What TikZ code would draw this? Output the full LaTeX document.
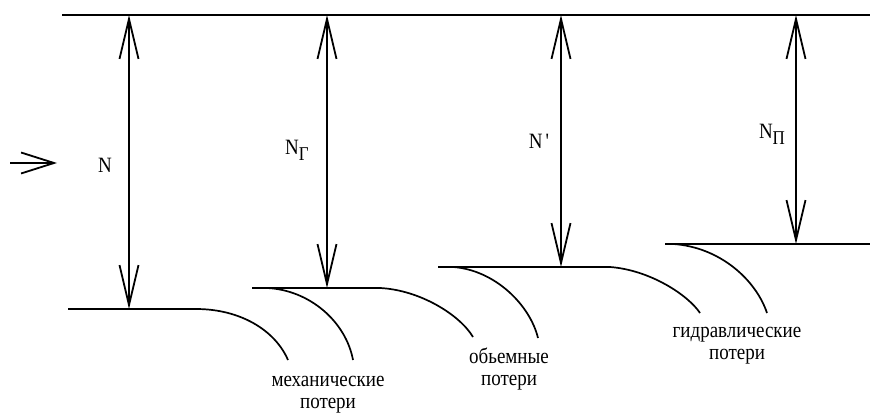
\documentclass[tikz,border=0pt]{standalone}
\usepackage{fontspec}
\setmainfont{Liberation Serif}
\newfontfamily\lblfont{Liberation Serif}
\usetikzlibrary{arrows.meta}
\newcommand{\vstretch}[1]{\scalebox{1}[1.15]{#1}}
\begin{document}
\begin{tikzpicture}[x=1pt,y=-1pt,
  baseln/.style={line width=2.2pt},
  dimarrow/.style={line width=1.8pt,{Straight Barb[length=40pt,width=19pt]}-{Straight Barb[length=40pt,width=19pt]}},
  curveln/.style={line width=1.7pt},
  lbl/.style={font=\lblfont\fontsize{19}{22}\selectfont, inner sep=0pt, align=center}]
\useasboundingbox (0,0) rectangle (870,414);
% top line
\coordinate (T0) at (62,15);
\coordinate (T1) at (870,15);
\draw[baseln] (T0) -- (T1);
% base lines
\coordinate (B1a) at (68,309);  \coordinate (B1b) at (196,309);
\coordinate (B2a) at (252,288); \coordinate (B2b) at (380,288);
\coordinate (B3a) at (438,267); \coordinate (B3b) at (610,267);
\coordinate (B4a) at (665,244); \coordinate (B4b) at (870,244);
\draw[baseln] (B1a) -- (B1b);
\draw[baseln] (B2a) -- (B2b);
\draw[baseln] (B3a) -- (B3b);
\draw[baseln] (B4a) -- (B4b);
% arrow ends
\coordinate (A1t) at (129,15); \coordinate (A1b) at (129,309);
\coordinate (A2t) at (327,15); \coordinate (A2b) at (327,288);
\coordinate (A3t) at (561,15); \coordinate (A3b) at (561,267);
\coordinate (A4t) at (796,15); \coordinate (A4b) at (796,244);
\draw[dimarrow] (A1b) -- (A1t);
\draw[dimarrow] (A2b) -- (A2t);
\draw[dimarrow] (A3b) -- (A3t);
\draw[dimarrow] (A4b) -- (A4t);
% input arrow
\coordinate (In0) at (10,163); \coordinate (In1) at (57,163);
\draw[line width=1.8pt,-{Straight Barb[length=33pt,width=21pt]}] (In0) -- (In1);
% curves
\coordinate (C1) at (288,360);
\coordinate (C2s) at (267,288); \coordinate (C2) at (353,360);
\coordinate (C3) at (473,337);
\coordinate (C4s) at (453,267); \coordinate (C4) at (538,338);
\coordinate (C5) at (700,313);
\coordinate (C6s) at (673,244); \coordinate (C6) at (767,313);
\draw[curveln] (B1b) .. controls (240,309) and (275,330) .. (C1);
\draw[curveln] (C2s) .. controls (310,290) and (346,322) .. (C2);
\draw[curveln] (B2b) .. controls (420,290) and (460,315) .. (C3);
\draw[curveln] (C4s) .. controls (495,270) and (530,305) .. (C4);
\draw[curveln] (B3b) .. controls (650,270) and (688,295) .. (C5);
\draw[curveln] (C6s) .. controls (720,247) and (756,280) .. (C6);
% labels
\node[lbl] (LN) at (105,165) {\vstretch{N}};
\node[lbl] (LNg) at (297,150) {\vstretch{N\raisebox{-5pt}{\fontsize{17}{17}\selectfont Г}}};
\node[lbl] (LNp) at (539,141) {\vstretch{N\,'}};
\node[lbl] (LNn) at (772,134) {\vstretch{N\raisebox{-5pt}{\fontsize{17}{17}\selectfont П}}};
\node[lbl] (Lmech) at (328,395) {\vstretch{механические}\\\vstretch{потери}};
\node[lbl] (Lvol) at (509,369) {\vstretch{обьемные}\\\vstretch{потери}};
\node[lbl] (Lhyd) at (737,346) {\vstretch{гидравлические}\\\vstretch{потери}};
\end{tikzpicture}
\end{document}
